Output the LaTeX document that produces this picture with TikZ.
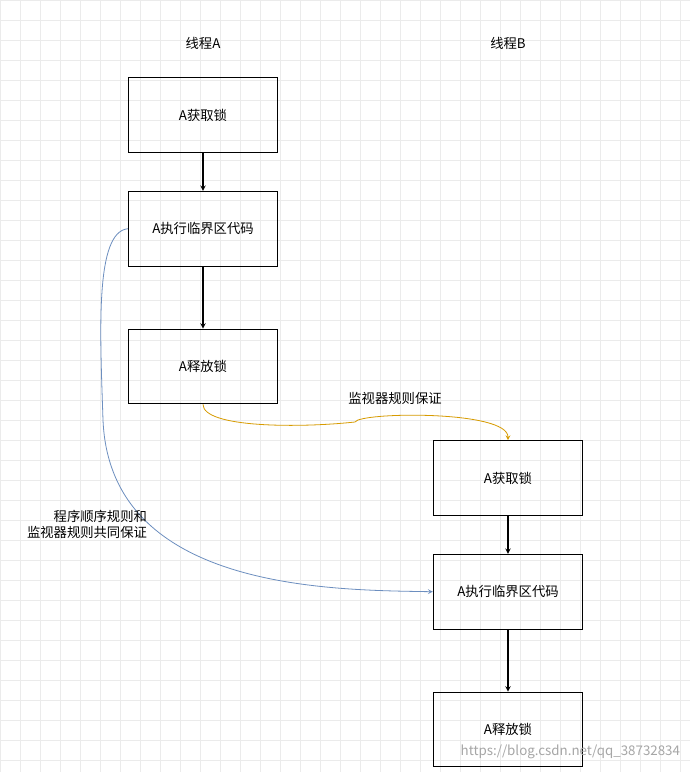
\documentclass[tikz,border=0pt]{standalone}
\usepackage{fontspec}
\setmainfont{Noto Sans CJK SC}
\usetikzlibrary{positioning}

\begin{document}
\begin{tikzpicture}[x=0.75pt, y=-0.75pt, thick,
    every node/.style={font=\fontsize{10}{12}\selectfont},
    step node/.style={rectangle, draw, line width=0.8pt, minimum width=112pt, minimum height=56pt, inner sep=0pt},
    flow/.style={->, >=stealth, line width=0.8pt}]

  \useasboundingbox (0,0) rectangle (690,772);
  \fill[white] (0,0) rectangle (690,772);
  \draw[black!8, line width=0.4pt, step=15pt] (0,0) grid (690,772);

  \node (ta) at (203,43) {线程A};
  \node (tb) at (508,43) {线程B};

  \node[step node] (1) at (203,115) {A获取锁};
  \node[step node] (2) [below=28.5pt of 1] {A执行临界区代码};
  \node[step node] (3) [below=46.5pt of 2] {A释放锁};

  \node[step node] (4) at (508,478) {A获取锁};
  \node[step node] (5) [below=28.5pt of 4] {A执行临界区代码};
  \node[step node] (6) [below=46.5pt of 5] {A释放锁};

  \draw[flow] (1) -- (2);
  \draw[flow] (2) -- (3);
  \draw[flow] (4) -- (5);
  \draw[flow] (5) -- (6);

  \coordinate (m) at (355,422);
  \draw[flow, color={rgb,255:red,215;green,155;blue,0}, line width=0.6pt]
    (3.south) .. controls (203,428) and (300,428) .. (m)
    .. controls (360,412) and (508,410) .. (4.north);
  \node (ml) at (395,398) {监视器规则保证};

  \draw[flow, color={rgb,255:red,108;green,142;blue,191}, line width=0.6pt]
    (2.west) .. controls (95,232) and (100,330) .. (103,420)
    .. controls (110,590) and (330,590) .. (5.west);
  \node[align=right] (bl) at (87,524) {程序顺序规则和\\监视器规则共同保证};

  \node[text=black!35, anchor=east] (wm) at (685,752) {https://blog.csdn.net/qq\_38732834};
\end{tikzpicture}
\end{document}
